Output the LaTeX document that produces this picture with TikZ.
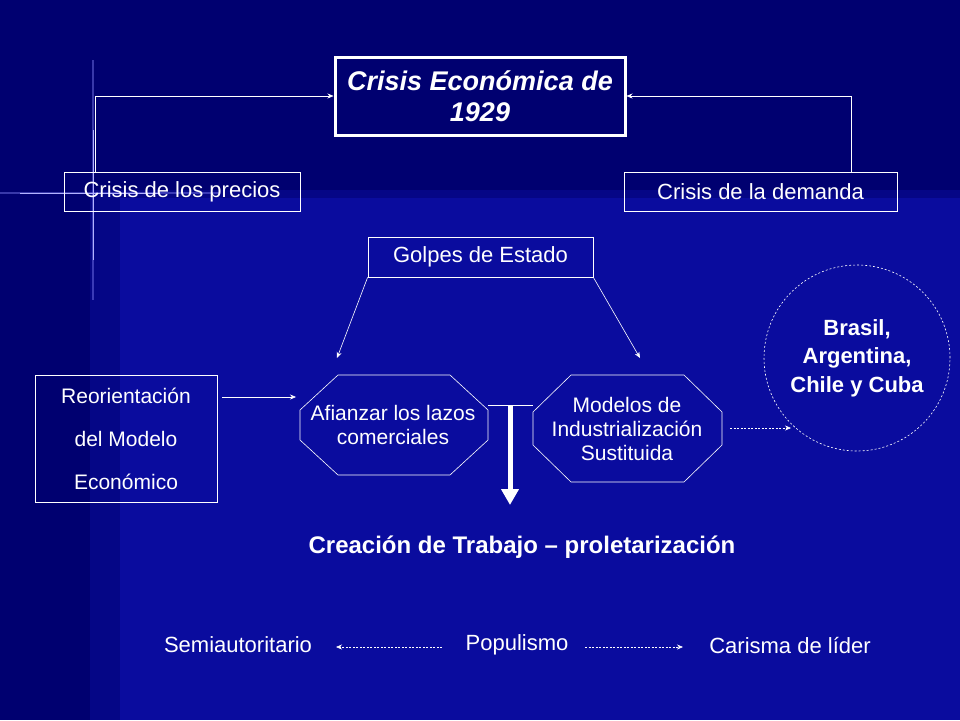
\documentclass[tikz,border=0pt]{standalone}
\usepackage{fontspec}
\setmainfont{Liberation Sans}
\usetikzlibrary{arrows.meta}
\definecolor{bgA}{HTML}{000070}
\definecolor{bgB}{HTML}{0A0C9E}
\definecolor{bgM}{HTML}{050686}
\begin{document}
\begin{tikzpicture}[x=1pt,y=-1pt,
  txt/.style={text=white,font=\fontsize{22}{25}\selectfont,align=center,inner sep=0pt},
  bx/.style={txt,draw=white,line width=0.8pt,minimum height=39pt},
  con/.style={white,line width=0.6pt,-{Stealth[length=6pt,width=5pt]}},
  dcon/.style={con,dash pattern=on 2pt off 1.5pt}]
\useasboundingbox (0,0) rectangle (960,720);
\fill[bgB] (0,0) rectangle (960,720);
\fill[bgA] (0,0) rectangle (960,190);
\fill[bgA] (0,0) rectangle (90,720);
\fill[bgM] (90,198) rectangle (120,720);
\fill[bgM] (90,190) rectangle (960,198);
\draw[blue!45!white,line width=2pt,opacity=0.4] (93,60) -- (93,300);
\draw[blue!45!white,line width=2pt,opacity=0.4] (0,193) -- (220,193);
\draw[blue!30!white,line width=0.6pt] (93,130) -- (93,260);
\draw[blue!30!white,line width=0.6pt] (20,193) -- (160,193);
% title
\node[txt,draw=white,line width=3pt,minimum width=290pt,minimum height=78pt,
  font=\fontsize{27}{31}\bfseries\itshape\selectfont] (title) at (480,96) {Crisis Económica de\\1929};
\node[bx,minimum width=236pt] (precios) at (182,191.5) {Crisis de los precios};
\node[bx,minimum width=273pt] (demanda) at (760.5,191.5) {Crisis de la demanda};
\draw[con] (precios.north -| 95,0) |- (title.west);
\draw[con] (demanda.north -| 851,0) |- (title.east);
\node[bx,minimum width=225pt,minimum height=40pt] (golpes) at (480.5,257) {Golpes de Estado};
% octagons
\draw[white,line width=0.6pt] (338,375) -- (450,375) -- (488,410) -- (488,440) -- (450,475) -- (338,475) -- (300,440) -- (300,410) -- cycle;
\draw[white,line width=0.6pt] (571,375) -- (684,375) -- (722,412) -- (722,445) -- (684,482) -- (571,482) -- (533,445) -- (533,412) -- cycle;
\node[txt,font=\fontsize{21}{24}\selectfont] (afianzar) at (393,425) {Afianzar los lazos\\comerciales};
\node[txt,font=\fontsize{21}{24}\selectfont] (modelos) at (627,429) {Modelos de\\Industrialización\\Sustituida};
\coordinate (ta) at (337,358);
\coordinate (tb) at (640,358);
\draw[con] (golpes.south west) -- (ta);
\draw[con] (golpes.south east) -- (tb);
\node[bx,minimum width=182pt,minimum height=127pt,font=\fontsize{21}{43}\selectfont] (reor) at (126,438.5) {Reorientación\\del Modelo\\ Económico};
\coordinate (ra) at (296,397);
\draw[con] (222,397) -- (ra);
\draw[white,line width=0.6pt] (488,405) -- (533,405);
\coordinate (trab) at (510,505);
\draw[white,line width=5pt,-{Triangle[length=16pt,width=17pt]}] (510,405) -- (trab);
\node[txt,font=\fontsize{24}{27}\bfseries\selectfont] (crea) at (522,547) {Creación de Trabajo – proletarización};
\node[txt,draw=white,dash pattern=on 2pt off 2pt,line width=0.6pt,circle,minimum size=186pt,font=\fontsize{22}{28.5}\bfseries\selectfont] (brasil) at (857,358) {Brasil,\\Argentina,\\Chile y Cuba};
\draw[dcon] (730,428) -- (brasil.south west |- 0,428);
\node[txt] (semi) at (238,645) {Semiautoritario};
\node[txt] (popu) at (517,645) {Populismo};
\node[txt] (car) at (790,645) {Carisma de líder};
\coordinate (pl) at (442,647);
\coordinate (pr) at (585,647);
\draw[dcon] (pl) -- (336,647);
\draw[dcon] (pr) -- (683,647);
\end{tikzpicture}
\end{document}
